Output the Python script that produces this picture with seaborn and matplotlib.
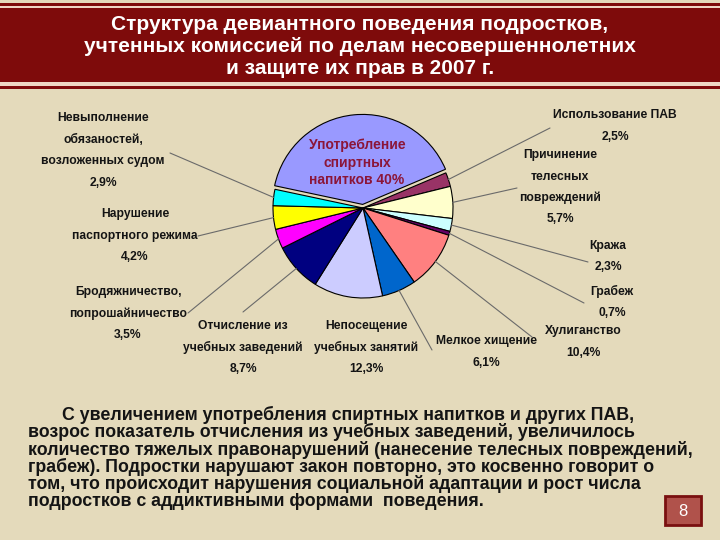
import matplotlib
matplotlib.use("Agg")
import matplotlib.pyplot as plt
from matplotlib.patches import Rectangle
import seaborn as sns
import numpy as np

# Chart data
categories = [
    "Употребление\nспиртных\nнапитков",
    "Использование ПАВ",
    "Причинение\nтелесных\nповреждений",
    "Кража",
    "Грабеж",
    "Хулиганство",
    "Мелкое хищение",
    "Непосещение\nучебных занятий",
    "Отчисление из\nучебных заведений",
    "Бродяжничество,\nпопрошайничество",
    "Нарушение\nпаспортного режима",
    "Невыполнение\nобязаностей,\nвозложенных судом",
]
shares = [40.0, 2.5, 5.7, 2.3, 0.7, 10.4, 6.1, 12.3, 8.7, 3.5, 4.2, 2.9]
slice_colors = ["#9999FF", "#993366", "#FFFFCC", "#CCFFFF", "#660066", "#FF8080",
                "#0066CC", "#CCCCFF", "#000080", "#FF00FF", "#FFFF00", "#00FFFF"]

title_lines = [
    "Структура девиантного поведения подростков,",
    "учтенных комиссией по делам несовершеннолетних",
    "и защите их прав в 2007 г.",
]
body_lines = [
    "С увеличением употребления спиртных напитков и других ПАВ,",
    "возрос показатель отчисления из учебных заведений, увеличилось",
    "количество тяжелых правонарушений (нанесение телесных повреждений,",
    "грабеж). Подростки нарушают закон повторно, это косвенно говорит о",
    "том, что происходит нарушения социальной адаптации и рост числа",
    "подростков с аддиктивными формами  поведения.",
]
page_number = "8"

# layout (pixels): label centre x, first line y, leader line end (or None)
label_pos = [
    None,
    (615, 115, (550, 128)),
    (560, 155, (517, 188)),
    (608, 246, (588, 262)),
    (612, 291, (584, 303)),
    (583, 331, (532, 337)),
    (486, 341, (432, 350)),
    (366, 326, None),
    (243, 326, (243, 312)),
    (128, 292, (188, 313)),
    (135, 214, (198, 236)),
    (103, 118, (170, 153)),
]
line_step = 21.5

sns.set_theme(style="white")
plt.rcParams["font.family"] = ["Liberation Sans", "DejaVu Sans"]

W, H = 720, 540
fig = plt.figure(figsize=(W / 100, H / 100), dpi=100)
fig.patch.set_facecolor("#E4DABB")

bg = fig.add_axes([0, 0, 1, 1])
bg.set_xlim(0, W)
bg.set_ylim(H, 0)
bg.axis("off")

# title band
bg.add_patch(Rectangle((0, 3), W, 3, color="#7E0B0B", lw=0))
bg.add_patch(Rectangle((0, 6), W, 2, color="#EFD6C4", lw=0))
bg.add_patch(Rectangle((0, 8), W, 74, color="#7E0B0B", lw=0))
bg.add_patch(Rectangle((0, 82), W, 4, color="#EFD6C4", lw=0))
bg.add_patch(Rectangle((0, 86), W, 3, color="#7E0B0B", lw=0))
for i, t in enumerate(title_lines):
    bg.text(360, 25 + i * 21.5, t, ha="center", va="center", color="white",
            fontsize=15, fontweight="bold")

# pie
cx, cy, r = 363, 208, 90
ax = fig.add_axes([(cx - r) / W, (H - cy - r) / H, 2 * r / W, 2 * r / H])
explode = [0.04] + [0] * (len(shares) - 1)
wedges, _ = ax.pie(shares, colors=slice_colors, startangle=168, counterclock=False,
                   explode=explode,
                   wedgeprops=dict(edgecolor="black", linewidth=0.8))
ax.set_xlim(-1, 1)
ax.set_ylim(-1, 1)
for w in wedges:
    w.set_clip_on(False)

# label inside the big slice, drawn on top of the pie
inner = categories[0].replace("напитков", "напитков 40%").split("\n")
for j, t in enumerate(inner):
    fig.text(357 / W, 1 - (145 + j * 17.5) / H, t, ha="center", va="center",
             color="#8B1538", fontsize=10, fontweight="bold")

text_color = "#141414"
for i in range(1, len(shares)):
    lx, ly, anchor = label_pos[i]
    pct = f"{shares[i]:.1f}".replace(".", ",") + "%"
    lines = categories[i].split("\n") + [pct]
    for j, t in enumerate(lines):
        bg.text(lx, ly + j * line_step, t, ha="center", va="center",
                color=text_color, fontsize=8.7, fontweight="bold")
    if anchor is not None:
        w = wedges[i]
        mid = np.deg2rad((w.theta1 + w.theta2) / 2)
        ax.annotate("", xy=(np.cos(mid), np.sin(mid)), xycoords="data",
                    xytext=(anchor[0], H - anchor[1]), textcoords="figure pixels",
                    arrowprops=dict(arrowstyle="-", color="#6A6A6A", lw=0.8,
                                    shrinkA=0, shrinkB=0),
                    annotation_clip=False)

# paragraph below
for i, t in enumerate(body_lines):
    x0 = 62 if i == 0 else 28
    bg.text(x0, 420 + i * 17.3, t, ha="left", va="baseline", color="#141414",
            fontsize=12.8, fontweight="bold")

# page number box
bg.add_patch(Rectangle((665, 496), 36, 29, facecolor="#B0524B",
                       edgecolor="#7A1010", lw=2))
bg.text(683, 511, page_number, ha="center", va="center", color="white", fontsize=12)

fig.savefig("out.png", dpi=100, facecolor=fig.get_facecolor())
